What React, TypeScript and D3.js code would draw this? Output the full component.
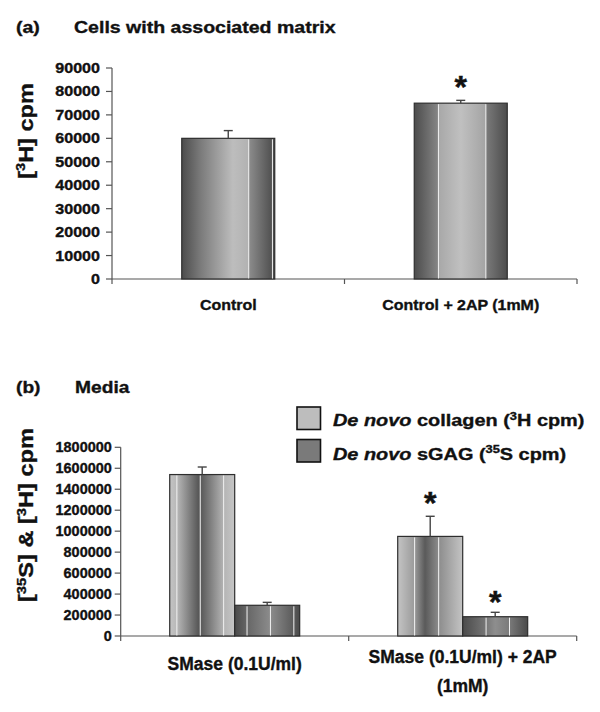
import React from "react";
import * as d3 from "d3";

// ---------- DATA ----------
const topCategories = ["Control", "Control + 2AP (1mM)"];
const topValues = [60000, 75000];
const topErrors = [3300, 1200];
const topSignificant = [false, true];
const topTicks = [0, 10000, 20000, 30000, 40000, 50000, 60000, 70000, 80000, 90000];

const bottomCategories = ["SMase (0.1U/ml)", "SMase (0.1U/ml) + 2AP|(1mM)"];
const seriesNames = ["collagen", "sGAG"];
const collagenValues = [1540000, 950000];
const collagenErrors = [72000, 192000];
const sgagValues = [293000, 184000];
const sgagErrors = [28000, 42000];
const collagenSignificant = [false, true];
const sgagSignificant = [false, true];
const bottomTicks = [0, 200000, 400000, 600000, 800000, 1000000, 1200000, 1400000, 1600000, 1800000];

// ---------- STYLES ----------
const FONT = "'Liberation Sans', Arial, Helvetica, sans-serif";
const TXT = "#111";
const TXT_STROKE = 0.35;
type Stop = [number, string];
const topBarStyles: { stops: Stop[]; lines: number[] }[] = [
  {
    stops: [[0, "#4c4c4c"], [0.2, "#7a7a7a"], [0.55, "#bdbdbd"], [0.715, "#b2b2b2"], [0.725, "#8c8c8c"], [0.97, "#505050"], [1, "#4c4c4c"]],
    lines: [0.72, 0.975],
  },
  {
    stops: [[0, "#4c4c4c"], [0.255, "#858585"], [0.265, "#a8a8a8"], [0.5, "#c0c0c0"], [0.765, "#a4a4a4"], [0.775, "#7a7a7a"], [1, "#4c4c4c"]],
    lines: [0.26, 0.77],
  },
];
const collagenStyles: { stops: Stop[]; lines: number[] }[] = [
  {
    stops: [[0, "#c4c4c4"], [0.11, "#b8b8b8"], [0.44, "#585858"], [0.5, "#5e5e5e"], [0.83, "#b4b4b4"], [1, "#c6c6c6"]],
    lines: [0.11, 0.47, 0.83],
  },
  {
    stops: [[0, "#c4c4c4"], [0.26, "#9a9a9a"], [0.42, "#5a5a5a"], [0.63, "#8c8c8c"], [1, "#c4c4c4"]],
    lines: [0.26, 0.63],
  },
];
const sgagStyles: { stops: Stop[]; lines: number[] }[] = [
  {
    stops: [[0, "#4a4a4a"], [0.19, "#666"], [0.55, "#8c8c8c"], [0.91, "#5a5a5a"], [1, "#4a4a4a"]],
    lines: [0.19, 0.55, 0.91],
  },
  {
    stops: [[0, "#4a4a4a"], [0.36, "#777"], [0.5, "#8e8e8e"], [0.72, "#7a7a7a"], [1, "#4a4a4a"]],
    lines: [0.36, 0.72],
  },
];
const legendFills = ["#bdbdbd", "#7a7a7a"];

function Grad({ id, stops }: { id: string; stops: Stop[] }) {
  return (
    <linearGradient id={id} x1="0" x2="1" y1="0" y2="0">
      {stops.map(([o, c], i) => (
        <stop key={i} offset={o} stopColor={c} />
      ))}
    </linearGradient>
  );
}

function Bar({ x, w, y0, y1, fillId, lines }: { x: number; w: number; y0: number; y1: number; fillId: string; lines: number[] }) {
  return (
    <g>
      <rect x={x} y={y1} width={w} height={y0 - y1} fill={`url(#${fillId})`} stroke="#2e2e2e" strokeWidth={1.2} />
      {lines.map((f, i) => (
        <line key={i} x1={x + f * w} x2={x + f * w} y1={y1 + 1} y2={y0 - 0.5} stroke="#f2f2f2" strokeWidth={1} />
      ))}
    </g>
  );
}

function ErrBar({ cx, yTop, yVal }: { cx: number; yTop: number; yVal: number }) {
  return (
    <g stroke="#444" strokeWidth={1.4}>
      <line x1={cx} x2={cx} y1={yVal} y2={yTop} />
      <line x1={cx - 4.5} x2={cx + 4.5} y1={yTop} y2={yTop} />
    </g>
  );
}

function Star({ cx, yTop }: { cx: number; yTop: number }) {
  return (
    <text x={cx} y={yTop} textAnchor="middle" fontFamily={FONT} fontWeight="bold" fontSize={32} fill={TXT} stroke={TXT} strokeWidth={0.5}>
      *
    </text>
  );
}

export default function App() {
  // ---------- Panel (a) ----------
  const aLeft = 112, aRight = 577, aTop = 68, aBottom = 279;
  const yA = d3.scaleLinear().domain([0, 90000]).range([aBottom, aTop]);
  const xA = d3.scaleBand().domain(topCategories).range([aLeft, aRight]).padding(0);
  const aBarW = xA.bandwidth() * 0.4;

  // ---------- Panel (b) ----------
  const bLeft = 120.7, bRight = 576.7, bTop = 447.3, bBottom = 636;
  const yB = d3.scaleLinear().domain([0, 1800000]).range([bBottom, bTop]);
  const xB = d3.scaleBand().domain(bottomCategories).range([bLeft, bRight]).padding(0);
  const bBarW = xB.bandwidth() * 0.285;

  return (
    <svg width={600} height={712} style={{ position: "absolute", left: 0, top: 0, background: "#fff" }}>
      <defs>
        {topBarStyles.map((s, i) => (
          <Grad key={"t" + i} id={"topg" + i} stops={s.stops} />
        ))}
        {collagenStyles.map((s, i) => (
          <Grad key={"c" + i} id={"colg" + i} stops={s.stops} />
        ))}
        {sgagStyles.map((s, i) => (
          <Grad key={"s" + i} id={"sgg" + i} stops={s.stops} />
        ))}
      </defs>

      <g fontFamily={FONT} fontWeight="bold" fill={TXT} stroke={TXT} strokeWidth={TXT_STROKE}>
        {/* ---------- Panel (a) texts ---------- */}
        <text transform={`translate(16,33) scale(1.15,1)`} fontSize={17}>(a)</text>
        <text transform={`translate(74,33) scale(1.15,1)`} fontSize={17}>Cells with associated matrix</text>
        <text transform={`translate(33,131) rotate(-90) scale(1.12,1)`} fontSize={21} textAnchor="middle">
          [<tspan fontSize={13} dy={-8}>3</tspan>
          <tspan dy={8}>H] cpm</tspan>
        </text>
        {topTicks.map((t) => (
          <text key={t} transform={`translate(${aLeft - 12},${yA(t) + 5}) scale(1.15,1)`} fontSize={14} textAnchor="end">
            {t}
          </text>
        ))}
        {topCategories.map((c) => {
          const cx = (xA(c) as number) + xA.bandwidth() / 2;
          return (
            <text key={c} transform={`translate(${cx},310) scale(1.1,1)`} fontSize={14.5} textAnchor="middle">
              {c}
            </text>
          );
        })}

        {/* ---------- Panel (b) texts ---------- */}
        <text transform={`translate(16,393) scale(1.13,1)`} fontSize={17}>(b)</text>
        <text transform={`translate(75,393) scale(1.13,1)`} fontSize={17}>Media</text>
        <text transform={`translate(33,515) rotate(-90) scale(1.18,1)`} fontSize={20} textAnchor="middle">
          [<tspan fontSize={12.5} dy={-7.5}>35</tspan>
          <tspan dy={7.5}>S] &amp; [</tspan>
          <tspan fontSize={12.5} dy={-7.5}>3</tspan>
          <tspan dy={7.5}>H] cpm</tspan>
        </text>
        {bottomTicks.map((t) => (
          <text key={t} transform={`translate(${bLeft - 9},${yB(t) + 5}) scale(1.03,1)`} fontSize={14} textAnchor="end">
            {t}
          </text>
        ))}
        {seriesNames.map((s, i) => (
          <text key={s} transform={`translate(333,${426 + i * 33.5}) scale(1.17,1)`} fontSize={17}>
            <tspan fontStyle="italic">De novo</tspan>
            {s === "collagen" ? (
              <>
                <tspan> collagen (</tspan>
                <tspan fontSize={11} dy={-6.5}>3</tspan>
                <tspan dy={6.5}>H cpm)</tspan>
              </>
            ) : (
              <>
                <tspan> sGAG (</tspan>
                <tspan fontSize={11} dy={-6.5}>35</tspan>
                <tspan dy={6.5}>S cpm)</tspan>
              </>
            )}
          </text>
        ))}
        {bottomCategories.map((c) => {
          const cx = (xB(c) as number) + xB.bandwidth() / 2;
          const lines = c.split("|");
          return (
            <text key={c} fontSize={17.5} textAnchor="middle">
              {lines.map((l, k) => (
                <tspan key={k} x={cx} y={(lines.length === 1 ? 670 : 663) + k * 29}>
                  {l}
                </tspan>
              ))}
            </text>
          );
        })}
      </g>

      {/* ---------- Panel (a) axes & bars ---------- */}
      {topTicks.map((t) => (
        <line key={t} x1={aLeft - 6} x2={aLeft} y1={yA(t)} y2={yA(t)} stroke="#555" strokeWidth={1.2} />
      ))}
      <line x1={aLeft} x2={aLeft} y1={aTop} y2={aBottom + 5} stroke="#555" strokeWidth={1.2} />
      <line x1={aLeft} x2={aRight} y1={aBottom} y2={aBottom} stroke="#555" strokeWidth={1.2} />
      {topCategories.map((c) => (
        <line key={c} x1={(xA(c) as number) + xA.bandwidth()} x2={(xA(c) as number) + xA.bandwidth()} y1={aBottom} y2={aBottom + 5} stroke="#555" strokeWidth={1.2} />
      ))}
      {topCategories.map((c, i) => {
        const cx = (xA(c) as number) + xA.bandwidth() / 2;
        return (
          <g key={c}>
            <Bar x={cx - aBarW / 2} w={aBarW} y0={aBottom} y1={yA(topValues[i])} fillId={"topg" + i} lines={topBarStyles[i].lines} />
            <ErrBar cx={cx} yVal={yA(topValues[i])} yTop={yA(topValues[i] + topErrors[i])} />
            {topSignificant[i] && <Star cx={cx} yTop={yA(topValues[i] + topErrors[i]) - 2} />}
          </g>
        );
      })}

      {/* ---------- Panel (b) legend, axes & bars ---------- */}
      {seriesNames.map((s, i) => (
        <rect key={s} x={297} y={407 + i * 32.5} width={23.5} height={22.5} fill={legendFills[i]} stroke="#111" strokeWidth={1.6} />
      ))}
      {bottomTicks.map((t) => (
        <line key={t} x1={bLeft - 6} x2={bLeft} y1={yB(t)} y2={yB(t)} stroke="#555" strokeWidth={1.2} />
      ))}
      <line x1={bLeft} x2={bLeft} y1={bTop} y2={bBottom + 5} stroke="#555" strokeWidth={1.2} />
      <line x1={bLeft} x2={bRight} y1={bBottom} y2={bBottom} stroke="#555" strokeWidth={1.2} />
      {bottomCategories.map((c) => (
        <line key={c} x1={(xB(c) as number) + xB.bandwidth()} x2={(xB(c) as number) + xB.bandwidth()} y1={bBottom} y2={bBottom + 5} stroke="#555" strokeWidth={1.2} />
      ))}
      {bottomCategories.map((c, i) => {
        const cx = (xB(c) as number) + xB.bandwidth() / 2;
        const xc = cx - bBarW;
        const xs = cx;
        return (
          <g key={c}>
            <Bar x={xc} w={bBarW} y0={bBottom} y1={yB(collagenValues[i])} fillId={"colg" + i} lines={collagenStyles[i].lines} />
            <Bar x={xs} w={bBarW} y0={bBottom} y1={yB(sgagValues[i])} fillId={"sgg" + i} lines={sgagStyles[i].lines} />
            <ErrBar cx={xc + bBarW / 2} yVal={yB(collagenValues[i])} yTop={yB(collagenValues[i] + collagenErrors[i])} />
            <ErrBar cx={xs + bBarW / 2} yVal={yB(sgagValues[i])} yTop={yB(sgagValues[i] + sgagErrors[i])} />
            {collagenSignificant[i] && <Star cx={xc + bBarW / 2} yTop={yB(collagenValues[i] + collagenErrors[i]) - 2} />}
            {sgagSignificant[i] && <Star cx={xs + bBarW / 2} yTop={yB(sgagValues[i] + sgagErrors[i]) + 1} />}
          </g>
        );
      })}
    </svg>
  );
}
